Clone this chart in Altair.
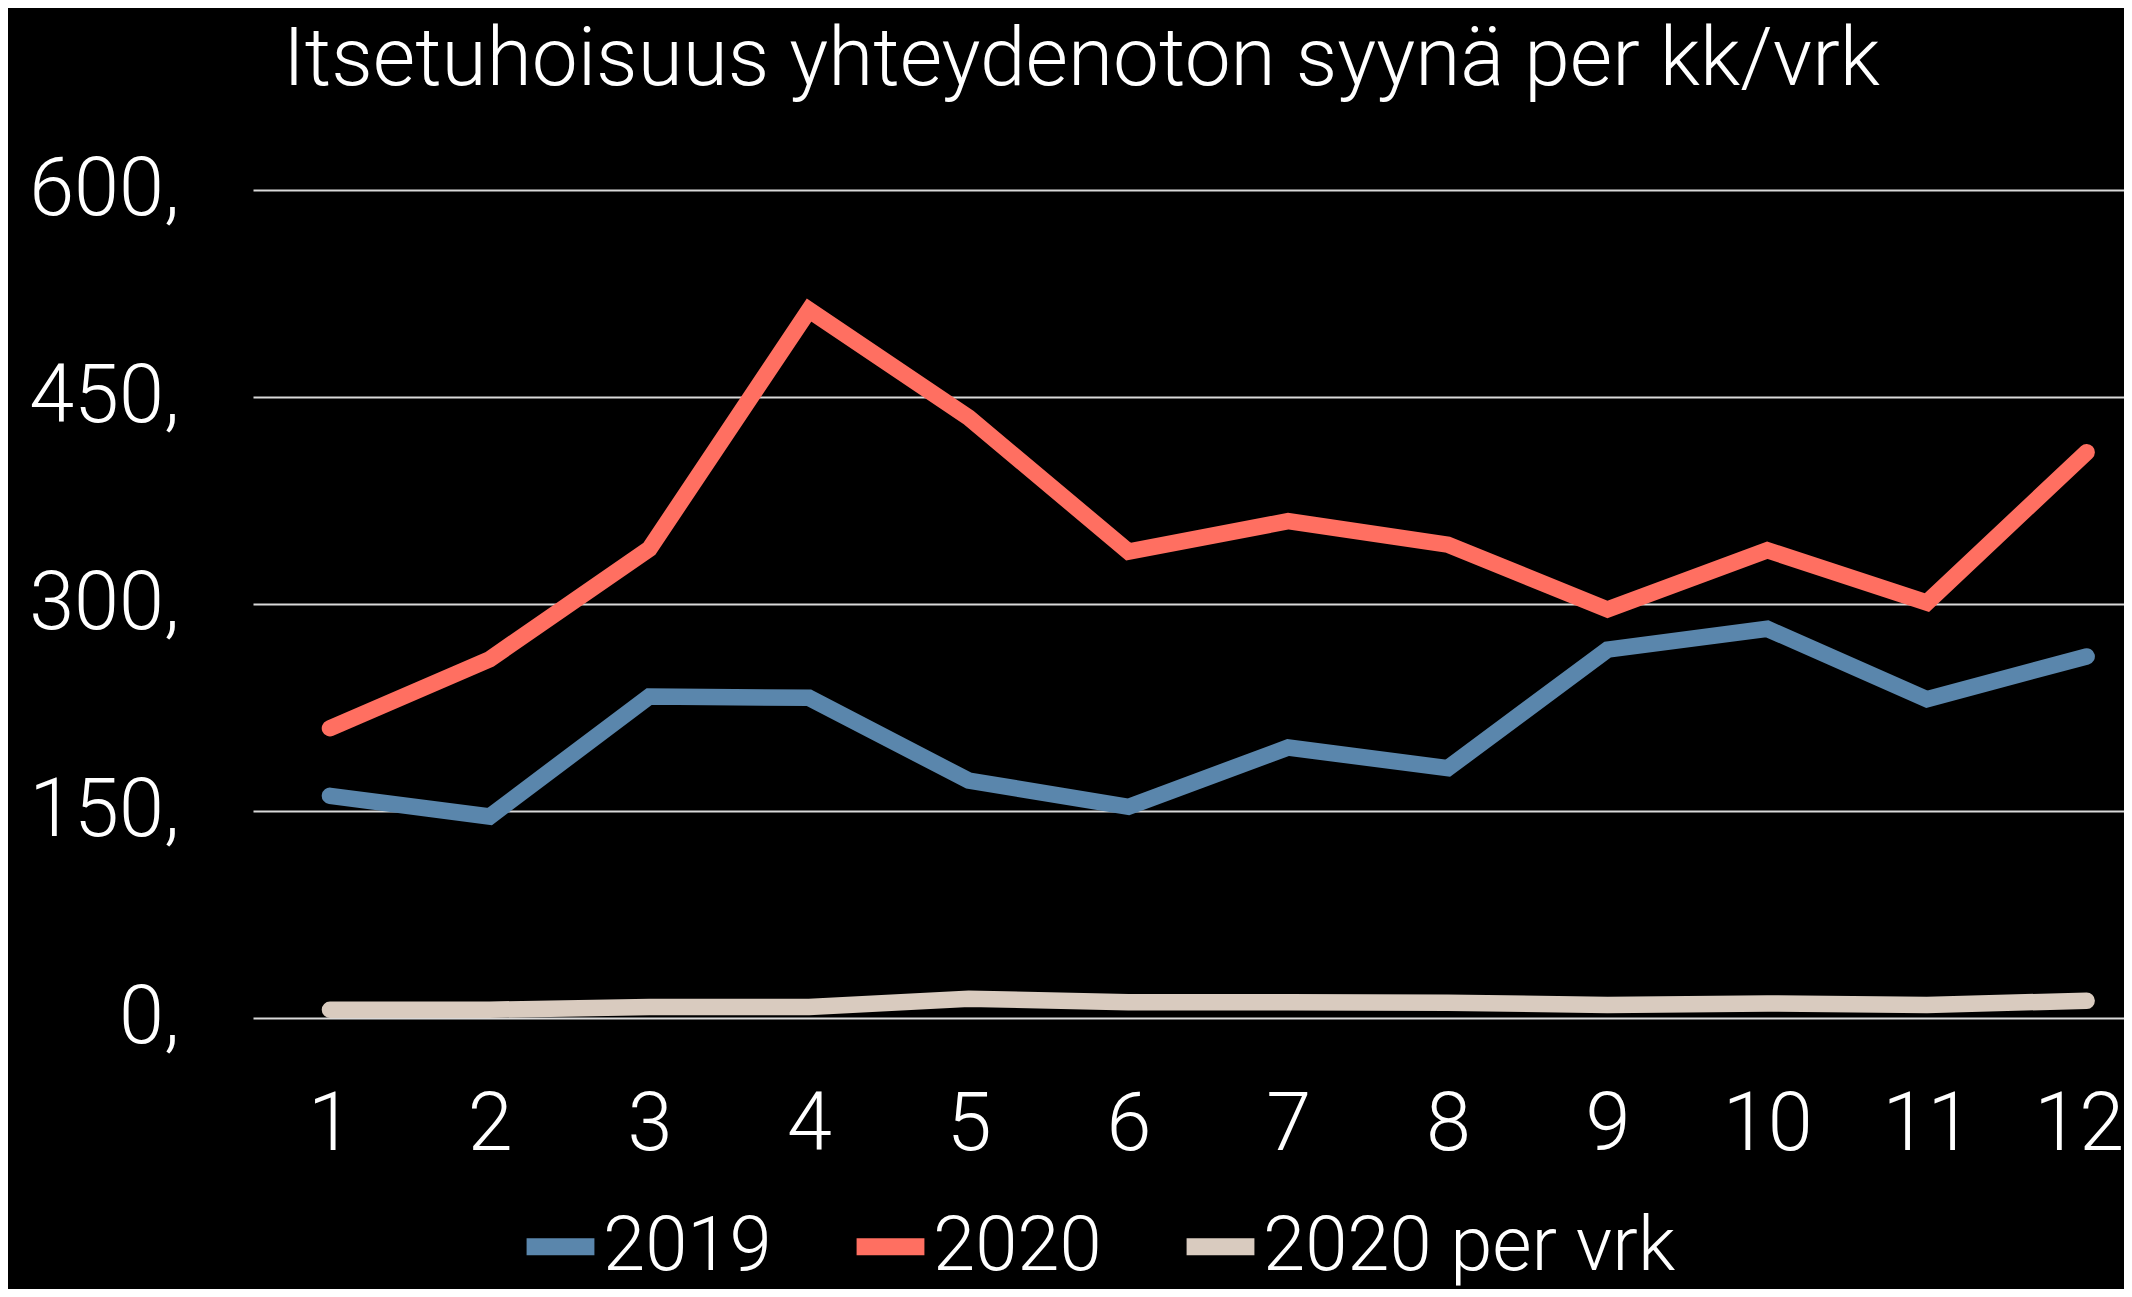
import altair as alt
import pandas as pd

months = [1, 2, 3, 4, 5, 6, 7, 8, 9, 10, 11, 12]
series_names = ["2019", "2020", "2020 per vrk"]
v2019 = [161, 146, 233, 232, 172, 153, 196, 181, 267, 282, 231, 262]
v2020 = [210, 260, 340, 513, 435, 338, 360, 343, 296, 339, 301, 410]
v2020_vrk = [6, 6, 8, 8, 14, 11.5, 11.5, 11, 9.5, 10.5, 9.5, 12.5]
y_ticks = [0, 150, 300, 450, 600]
colors = ["#5A86AC", "#FF6F61", "#D9CBBF"]
title_text = "Itsetuhoisuus yhteydenoton syynä per kk/vrk"

rows = []
for name, vals in zip(series_names, [v2019, v2020, v2020_vrk]):
    for m, v in zip(months, vals):
        rows.append({"kk": m, "arvo": v, "sarja": name})
df = pd.DataFrame(rows)

FONT = "Roboto"
W = 300

chart = alt.Chart(df).mark_line(
    strokeWidth=16.5, strokeCap="round", strokeJoin="miter"
).encode(
    x=alt.X("kk:Q",
            scale=alt.Scale(domain=[0.518, 12.234], nice=False, zero=False),
            axis=alt.Axis(values=months, title=None, grid=False, domain=False,
                          ticks=False, tickSize=0, labelFontSize=81,
                          labelFont=FONT, labelFontWeight=W, labelColor="white",
                          labelBaseline="alphabetic", labelPadding=131,
                          labelOffset=alt.ExprRef("datum.value == 12 ? -8 : 0"),
                          labelFlush=False, labelOverlap=False)),
    y=alt.Y("arvo:Q",
            scale=alt.Scale(domain=[0, 600], nice=False),
            axis=alt.Axis(values=y_ticks, title=None, grid=True,
                          gridColor="#D9D9D9", gridWidth=2, domain=False,
                          ticks=False, tickSize=0, labelFontSize=81,
                          labelFont=FONT, labelFontWeight=W, labelColor="white",
                          labelPadding=74, labelExpr="datum.label + ','")),
    color=alt.Color("sarja:N",
                    scale=alt.Scale(domain=series_names, range=colors),
                    legend=alt.Legend(title=None, orient="none",
                                      legendX=265, legendY=1014,
                                      direction="horizontal",
                                      symbolType="stroke", symbolSize=4600,
                                      symbolStrokeWidth=17,
                                      labelFont=FONT, labelFontWeight=W,
                                      labelFontSize=76, labelLimit=2000,
                                      labelColor="white", labelOffset=0,
                                      columnPadding=50, padding=0)),
    order=alt.Order("kk:Q"),
).properties(
    width=1871,
    height=828,
    title=alt.Title(title_text, font=FONT, fontWeight=W, fontSize=82,
                    color="white", anchor="start", frame="group", dx=30,
                    dy=38, baseline="alphabetic", offset=20),
    background="black",
    autosize=alt.AutoSizeParams(type="none"),
    padding={"left": 245, "top": 182, "right": 0, "bottom": 271},
).configure_view(stroke=None)

chart.save("out.html", embed_options={"renderer": "svg", "actions": False})
